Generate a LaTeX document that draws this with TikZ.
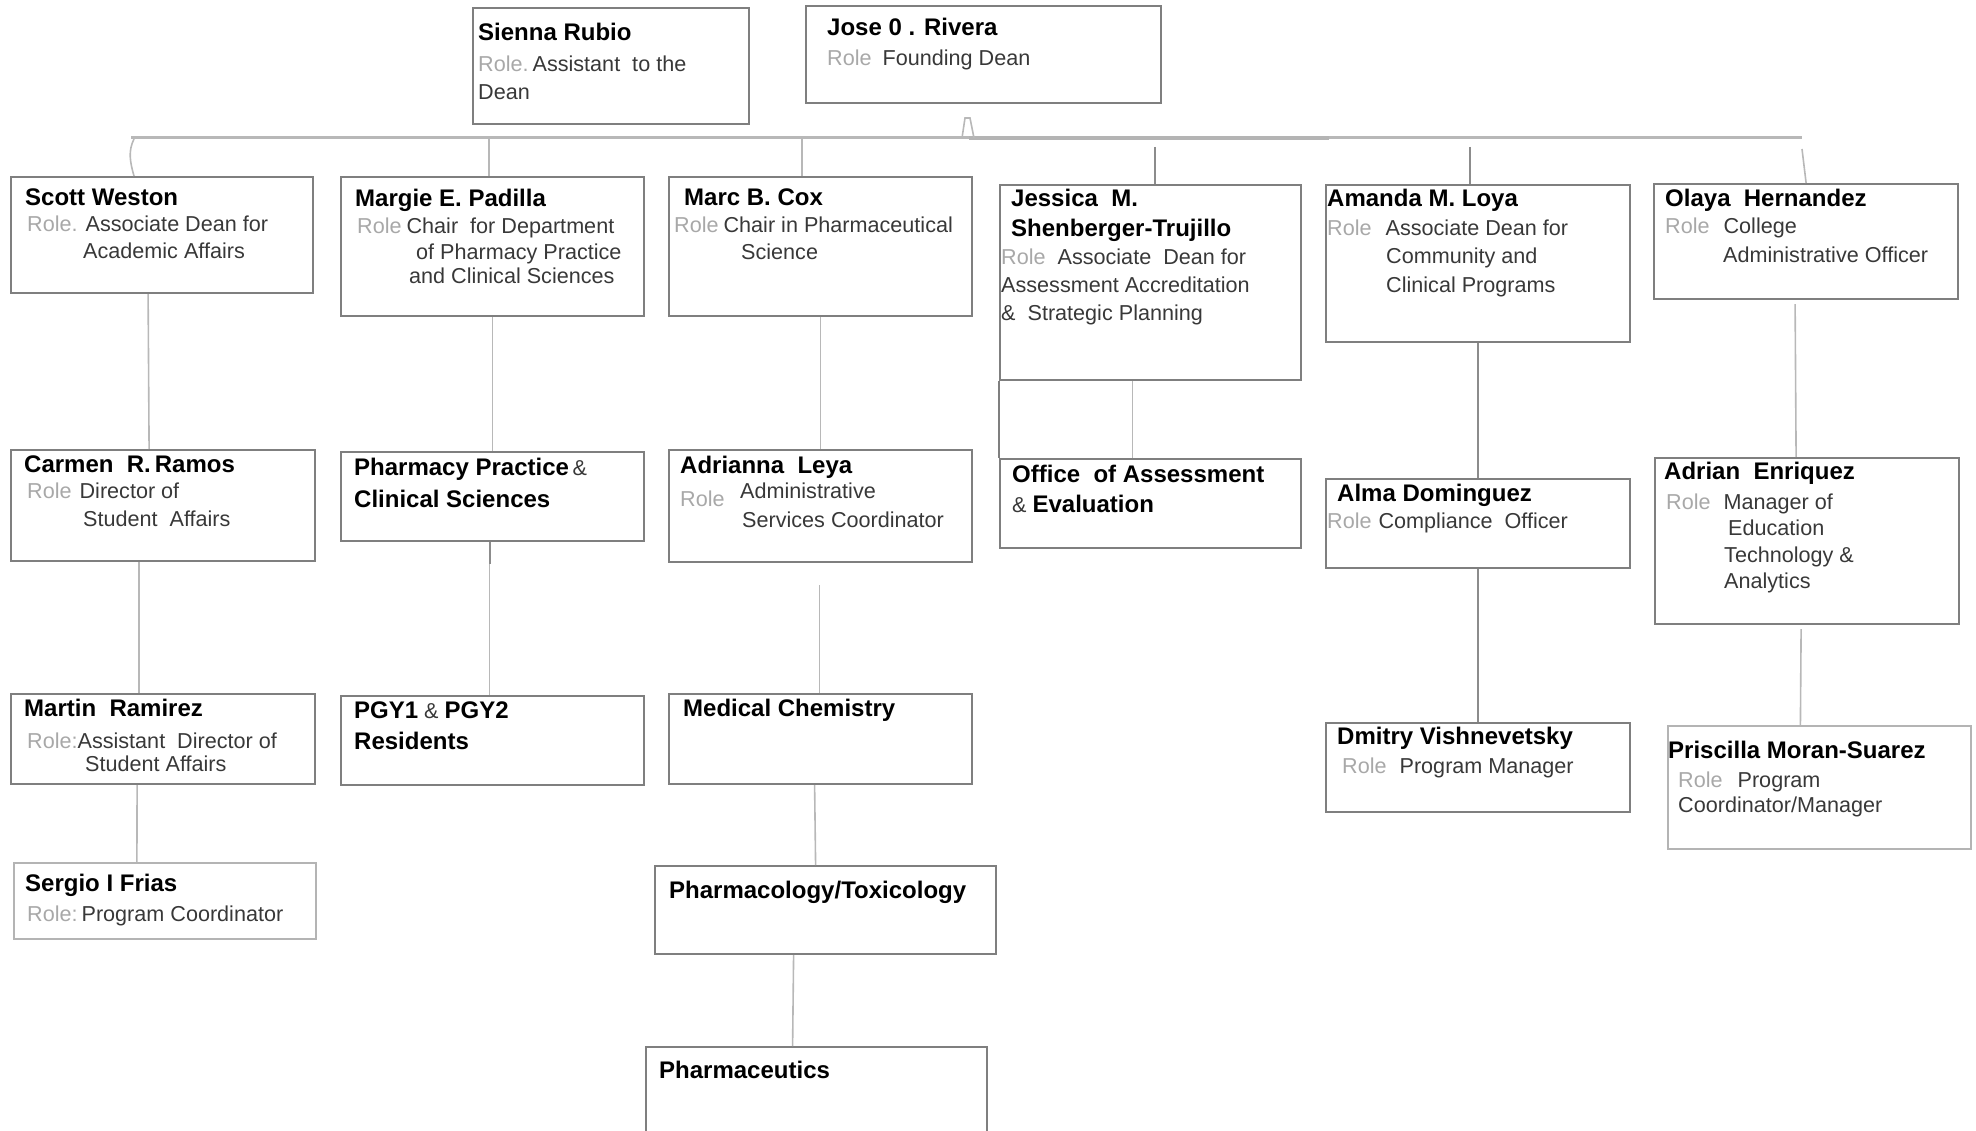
\documentclass[tikz,border=0pt]{standalone}
\usepackage{fontspec}
\setmainfont{Liberation Sans}
\definecolor{boxgray}{HTML}{7F7F7F}
\definecolor{lightbox}{HTML}{B4B4B4}
\definecolor{linkgray}{HTML}{B8B8B8}
\definecolor{stubgray}{HTML}{8C8C8C}
\definecolor{rolegray}{HTML}{A8A8A8}
\definecolor{textgray}{HTML}{383838}
\newcommand{\nm}[1]{{\fontsize{24}{27}\selectfont\bfseries\color{black}#1}}
\newcommand{\rl}[1]{\textcolor{rolegray}{#1}}
\begin{document}
\begin{tikzpicture}[x=1pt,y=-1pt,
	box/.style={draw=boxgray,line width=2.2pt,anchor=north west,inner sep=0pt},
	pale/.style={box,draw=lightbox,line width=1.8pt},
	txt/.style={anchor=north west,inner sep=0pt,align=left,text=textgray,font=\fontsize{21.6}{27}\selectfont},
	link/.style={draw=linkgray,line width=1.6pt},
	stub/.style={draw=stubgray,line width=2.6pt},
	bus/.style={draw=linkgray,line width=3pt}]

	\useasboundingbox (0,0) rectangle (1976,1131);
	\clip (0,0) rectangle (1976,1131);

	% top
	\node[box,minimum width=276pt,minimum height=116pt] (sienna) at (472,7) {};
	\node[txt] (siennaT) at ([shift={(6,16)}]sienna.north west) {\nm{Sienna Rubio}\\[3.8pt]\rl{Role.}\hspace{4pt}Assistant\ \ to the\\[1pt]Dean};
	\node[box,minimum width=355pt,minimum height=97pt] (jose) at (805,5) {};
	\node[txt] (joseT) at ([shift={(22,13)}]jose.north west) {\nm{Jose 0 . Rivera}\\[2.8pt]\rl{Role}\hspace{11pt}Founding Dean};

	% bus
	\coordinate (busL) at (131,138);
	\coordinate (busR) at (1802,138);
	\draw[bus] (busL) -- (busR);
	\coordinate (busM1) at (969,138);
	\coordinate (busM2) at (1329,138);
	\draw[bus,draw=lightbox,line width=3.6pt] (busM1) -- (busM2);
	\draw[link] (962,138) -- (965,118) -- (970,118) -- (974,138);

	% row 1
	\node[box,minimum width=302pt,minimum height=116pt] (scott) at (10,176) {};
	\node[txt] (scottT) at ([shift={(15,13)}]scott.north west) {\nm{Scott Weston}\\[-1.7pt]\hspace*{2pt}\rl{Role.}\hspace{8pt}Associate\ Dean for\\\hspace*{58pt}Academic Affairs};
	\node[box,minimum width=303pt,minimum height=139pt] (margie) at (340,176) {};
	\node[txt] (margieT) at ([shift={(15,13)}]margie.north west) {\nm{Margie E. Padilla}\\[-0.2pt]\hspace*{2pt}\rl{Role}\hspace{5pt}Chair\ \ for Department\\[-0.5pt]\hspace*{61pt}of Pharmacy Practice\\[-3pt]\hspace*{54pt}and Clinical Sciences};
	\node[box,minimum width=303pt,minimum height=139pt] (marc) at (668,176) {};
	\node[txt] (marcT) at ([shift={(6,13)}]marc.north west) {\hspace*{10pt}\nm{Marc B. Cox}\\[-0.2pt]\rl{Role}\hspace{5pt}Chair in Pharmaceutical\\[-0.5pt]\hspace*{67pt}Science};
	\node[box,minimum width=301pt,minimum height=195pt] (jessica) at (999,184) {};
	\node[txt] (jessicaT) at ([shift={(2,5)}]jessica.north west) {\hspace*{10pt}\nm{Jessica\ \ M.}\\[3pt]\hspace*{10pt}\nm{Shenberger-Trujillo}\\[1.3pt]\rl{Role}\hspace{12pt}Associate\ \ Dean for\\[1pt]Assessment Accreditation\\[0.5pt]\&\ \ Strategic Planning};
	\node[box,minimum width=304pt,minimum height=157pt] (amanda) at (1325,184) {};
	\node[txt] (amandaT) at ([shift={(2,5)}]amanda.north west) {\nm{Amanda M. Loya}\\[2.3pt]\rl{Role}\hspace{14pt}Associate Dean for\\[1pt]\hspace*{59pt}Community and\\[2pt]\hspace*{59pt}Clinical Programs};
	\node[box,minimum width=304pt,minimum height=115pt] (olaya) at (1653,183) {};
	\node[txt] (olayaT) at ([shift={(12,6)}]olaya.north west) {\nm{Olaya\ \ Hernandez}\\[-0.2pt]\rl{Role}\hspace{14pt}College\\[2pt]\hspace*{58pt}Administrative Officer};

	% row 2
	\node[box,minimum width=304pt,minimum height=111pt] (carmen) at (10,449) {};
	\node[txt] (carmenT) at ([shift={(14,7)}]carmen.north west) {\nm{Carmen\ \ R.\,Ramos}\\[-1.7pt]\hspace*{3pt}\rl{Role}\hspace{8pt}Director of\\[1pt]\hspace*{59pt}Student\ \ Affairs};
	\node[box,minimum width=303pt,minimum height=89pt] (pp) at (340,451) {};
	\node[txt] (ppT) at ([shift={(14,7)}]pp.north west) {\nm{Pharmacy Practice}\,\&\\[5pt]\nm{Clinical Sciences}};
	\node[box,minimum width=303pt,minimum height=112pt] (adrianna) at (668,449) {};
	\node[txt] (adriannaT) at ([shift={(12,7)}]adrianna.north west) {\nm{Adrianna\ \ Leya}\\[-1.7pt]\hspace*{60pt}Administrative\\[2pt]\rlap{\raisebox{21pt}[0pt][0pt]{\rl{Role}}}\hspace*{62pt}Services Coordinator};
	\node[box,minimum width=301pt,minimum height=89pt] (office) at (999,458) {};
	\node[txt] (officeT) at ([shift={(13,7)}]office.north west) {\nm{Office\ \ of Assessment}\\[3pt]\&\ \nm{Evaluation}};
	\node[box,minimum width=304pt,minimum height=89pt] (alma) at (1325,478) {};
	\node[txt] (almaT) at ([shift={(2,6)}]alma.north west) {\hspace*{10pt}\nm{Alma Dominguez}\\[-0.2pt]\rl{Role}\hspace{7pt}Compliance\ \ Officer};
	\node[box,minimum width=304pt,minimum height=166pt] (adrian) at (1654,457) {};
	\node[txt] (adrianT) at ([shift={(10,5)}]adrian.north west) {\nm{Adrian\ \ Enriquez}\\[2.8pt]\hspace*{2pt}\rl{Role}\hspace{13pt}Manager of\\[-0.5pt]\hspace*{64pt}Education\\[-0.5pt]\hspace*{60pt}Technology \&\\[-0.5pt]\hspace*{60pt}Analytics};

	% row 3
	\node[box,minimum width=304pt,minimum height=90pt] (martin) at (10,693) {};
	\node[txt] (martinT) at ([shift={(14,6)}]martin.north west) {\nm{Martin\ \ Ramirez}\\[5.3pt]\hspace*{3pt}\rl{Role:}Assistant\ \ Director of\\[-4.5pt]\hspace*{61pt}Student Affairs};
	\node[box,minimum width=303pt,minimum height=89pt] (pgy) at (340,695) {};
	\node[txt] (pgyT) at ([shift={(14,7)}]pgy.north west) {\nm{PGY1} \& \nm{PGY2}\\[4pt]\nm{Residents}};
	\node[box,minimum width=303pt,minimum height=90pt] (medchem) at (668,693) {};
	\node[txt] (medchemT) at ([shift={(15,6)}]medchem.north west) {\nm{Medical Chemistry}};
	\node[box,minimum width=304pt,minimum height=89pt] (dmitry) at (1325,722) {};
	\node[txt] (dmitryT) at ([shift={(12,5)}]dmitry.north west) {\nm{Dmitry Vishnevetsky}\\[2.3pt]\hspace*{5pt}\rl{Role}\hspace{13pt}Program Manager};
	\node[pale,minimum width=303pt,minimum height=123pt] (priscilla) at (1667,725) {};
	\node[txt] (priscillaT) at ([shift={(1,16)}]priscilla.north west) {\nm{Priscilla Moran-Suarez}\\[2.3pt]\hspace*{10pt}\rl{Role}\hspace{15pt}Program\\[-2pt]\hspace*{10pt}Coordinator/Manager};

	% rows 4 and 5
	\node[pale,minimum width=302pt,minimum height=76pt] (sergio) at (13,862) {};
	\node[txt] (sergioT) at ([shift={(12,12)}]sergio.north west) {\nm{Sergio I Frias}\\[2.8pt]\hspace*{2pt}\rl{Role:}\hspace{4pt}Program Coordinator};
	\node[box,minimum width=341pt,minimum height=88pt] (pharmacology) at (654,865) {};
	\node[txt] (pharmacologyT) at ([shift={(15,16)}]pharmacology.north west) {\nm{Pharmacology/Toxicology}};
	\node[box,minimum width=341pt,minimum height=110pt] (pharmaceutics) at (645,1046) {};
	\node[txt] (pharmaceuticsT) at ([shift={(14,15)}]pharmaceutics.north west) {\nm{Pharmaceutics}};

	% drops from the bus
	\coordinate (bScott) at (134,139);
	\coordinate (bMargie) at (489,138);
	\coordinate (bMarc) at (802,138);
	\coordinate (bJess) at (1155,147);
	\coordinate (bAmanda) at (1470,147);
	\coordinate (bOlaya) at (1802,149);
	\draw[link] (bScott) .. controls +(-6,12) and +(-4,-14) .. (bScott |- scott.north);
	\draw[link] (bMargie) -- (bMargie |- margie.north);
	\draw[link] (bMarc) -- (bMarc |- marc.north);
	\draw[stub] (bJess) -- (bJess |- jessica.north);
	\draw[stub] (bAmanda) -- (bAmanda |- amanda.north);
	\draw[link] (bOlaya) -- (olaya.north);

	% lines between boxes
	\draw[link] ([xshift=-14pt]scott.south) -- ([xshift=-14pt]carmen.north);
	\draw[link] ([xshift=-24pt]carmen.south) -- ([xshift=-24pt]martin.north);
	\draw[link] ([xshift=-26pt]martin.south) -- ([xshift=-28pt]sergio.north);
	\draw[link] (margie.south) -- (pp.north);
	\draw[link] ([xshift=-3pt]pp.south) -- ([xshift=-3pt]pgy.north);
	\draw[stub,line width=2pt] ([xshift=-3pt]pp.south) -- ++(0,22);
	\draw[link] (marc.south) -- (adrianna.north);
	\draw[link] ([xshift=-1pt,yshift=-22pt]adrianna.south) -- ([xshift=-1pt]medchem.north);
	\draw[link] ([xshift=-6pt]medchem.south) -- ([xshift=-10pt]pharmacology.north);
	\draw[link] ([xshift=-32pt]pharmacology.south) -- ([xshift=-24pt]pharmaceutics.north);
	\draw[link] ([xshift=-18pt]jessica.south) -- ([xshift=-18pt]office.north);
	\draw[draw=boxgray,line width=2.2pt] (jessica.south west) -- (office.north west);
	\draw[link,draw=stubgray] (amanda.south) -- (alma.north);
	\draw[link,draw=stubgray] (alma.south) -- (dmitry.north);
	\draw[link] ([xshift=-11pt,yshift=-4pt]olaya.south) -- ([xshift=-11pt]adrian.north);
	\draw[link] ([xshift=-6pt,yshift=-4pt]adrian.south) -- ([xshift=-19pt]priscilla.north);

\end{tikzpicture}
\end{document}
